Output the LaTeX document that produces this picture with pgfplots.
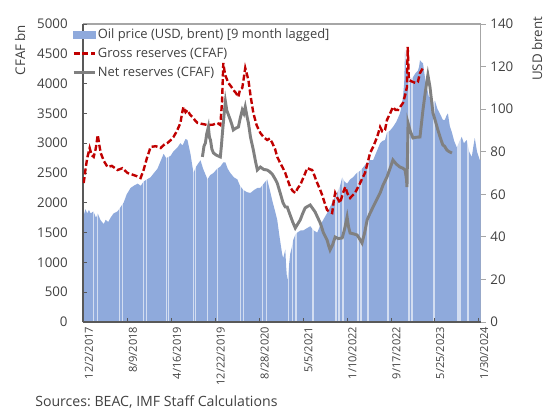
\documentclass[border=0pt]{standalone}
\usepackage{pgfplots}
\pgfplotsset{compat=1.18}
\usepackage{fontspec}
\setmainfont{Open Sans}
\frenchspacing
\definecolor{oilblue}{HTML}{8FAADC}
\definecolor{resred}{HTML}{C00000}
\definecolor{netgray}{HTML}{808080}
\definecolor{axgray}{HTML}{A6A6A6}
\definecolor{axdark}{HTML}{595959}
\definecolor{txt}{HTML}{404040}
\pgfplotsset{
  linelegend/.style={legend image code/.code={\draw[##1] (0pt,0pt) -- (16pt,0pt);}},
  patchlegend/.style={legend image code/.code={\fill[oilblue] (0pt,-2.7pt) rectangle (16pt,2.7pt);}},
}

\pgfplotstableread{
d usd
0 50
10 53
20 51
30 52.6
40 51
55 52
70 49
80 51
95 48
114 46
125 48
140 47
153 49
170 51
193 52
210 54
227 56
245 60
267 63
285 64
307 65
325 64
341 66
360 67
381 68
400 70
420 72
440 76
455 79
470 77
494 78
510 80
534 82
550 84
563 83
580 86
591 85.5
600 82
608 79
625 70
640 73
665 76
680 72
705 67
720 69
739 70
760 72
778 73
795 75
807 75
820 72
835 70
855 68
875 67
890 64
909 62
930 61
949 60.6
970 62
990 63
1006 63
1025 65
1045 67
1060 62
1074 57
1090 52
1102 48
1112 42
1119 38
1130 32
1136 30
1148 34
1153 26
1159 19
1166 24
1176 32
1185 35
1193 38.5
1205 41
1216 42
1235 43
1250 43
1270 44
1290 45
1310 43
1330 42
1345 45
1364 48
1385 51
1403 54
1420 57
1443 60.6
1460 64
1472 68
1485 66
1500 65
1517 67
1534 68
1555 70
1574 71
1595 73
1614 75
1630 76
1648 76
1668 80
1688 84
1700 85
1716 85.5
1727 89
1745 90
1761 91.6
1780 94
1801 98
1810 101
1818 105.7
1825 112
1830 127.8
1836 118
1847 117
1860 114
1875 115
1890 117
1903 118
1910 120
1915 123
1925 122
1932 121.6
1945 114
1955 110
1965 106
1972 105.7
1985 103
2000 104
2015 100
2028 98
2045 95
2057 95
2066 97
2074 98
2085 92
2097 89
2110 85
2125 82
2140 85
2153 87
2165 84
2182 85.5
2195 80
2210 77.5
2220 83
2227 86.4
2240 80
2256 76
2261 76
}\oildata

\pgfplotstableread{
d gap
57 138
80 138
205 138
222 138
341 138
358 138
472 138
483 138
625 138
636 138
705 138
761 138
892 138
909 138
1017 138
1040 138
1165 138
1188 138
1210 138
1307 138
1438 138
1455 138
1477 138
1563 138
1580 138
1619 138
1733 138
1852 138
1869 138
1994 138
2131 138
2142 138
2188 138
}\gapdata

\pgfplotstableread{
d cfaf
0 2332
12 2600
20 2750
34 2920
45 2800
57 2770
68 2900
80 3138
90 2950
97 2836
115 2700
136 2600
160 2620
193 2550
220 2580
250 2500
280 2470
300 2450
324 2416
341 2550
360 2750
381 2937
410 2950
438 2920
460 2980
477 3004
495 3050
511 3104
530 3200
551 3340
560 3500
568 3608
580 3520
591 3557
605 3480
619 3440
635 3380
648 3340
680 3320
705 3306
735 3310
761 3340
778 3306
788 3700
795 4346
805 4150
824 4010
840 3950
852 3893
865 3850
881 3776
890 3900
903 3927
912 4100
920 4262
930 4150
938 4060
950 3800
966 3507
985 3300
1006 3171
1025 3100
1045 3054
1060 3080
1074 3004
1090 2900
1102 2770
1119 2668
1135 2580
1148 2500
1162 2380
1176 2265
1190 2200
1205 2165
1220 2250
1233 2299
1255 2450
1273 2584
1290 2560
1301 2550
1315 2450
1330 2332
1345 2230
1358 2131
1372 2000
1386 1879
1400 1850
1415 1829
1425 2050
1432 2165
1445 2080
1460 1997
1475 2150
1489 2265
1503 2150
1517 2081
1530 2120
1545 2165
1560 2250
1574 2332
1588 2420
1602 2500
1615 2650
1631 2836
1650 2950
1671 3104
1688 3272
1700 3200
1716 3222
1727 3390
1745 3500
1761 3608
1775 3560
1790 3557
1805 3620
1818 3675
1830 3800
1841 3943
1845 4615
1852 4060
1875 4027
1890 4010
1903 4027
1915 4178
1932 4262
}\grossdata

\pgfplotstableread{
d cfaf
676 2770
685 2950
693 3004
700 3150
710 3272
716 3100
722 3054
730 2900
739 2836
755 2800
778 2770
784 2950
790 3171
800 3500
807 3700
815 3550
835 3390
845 3300
852 3222
865 3250
881 3272
890 3400
903 3557
912 3500
920 3608
930 3450
938 3340
950 3100
966 2886
978 2700
989 2550
1006 2600
1025 2560
1045 2550
1060 2520
1074 2480
1090 2400
1102 2332
1119 2165
1135 2000
1148 1930
1159 1930
1175 1800
1190 1680
1205 1577
1220 1650
1233 1712
1247 1820
1261 1913
1275 1940
1290 1963
1305 1900
1318 1846
1333 1750
1347 1661
1365 1500
1386 1376
1395 1280
1403 1208
1418 1300
1432 1426
1450 1400
1472 1410
1485 1550
1500 1762
1508 1600
1517 1493
1535 1480
1557 1460
1570 1400
1585 1326
1600 1500
1614 1712
1630 1820
1648 1930
1668 2050
1688 2165
1705 2300
1727 2433
1745 2580
1761 2718
1780 2650
1801 2600
1818 2580
1830 2550
1838 2400
1841 2265
1847 3340
1860 3200
1875 3088
1895 3100
1915 3104
1932 3557
1945 3850
1960 4145
1972 3943
1989 3507
2000 3400
2017 3222
2030 3100
2045 2970
2055 2950
2068 2886
2080 2860
2097 2836
}\netdata

\begin{document}
\begin{tikzpicture}
\useasboundingbox (0,0) rectangle (408pt,306pt);
\pgfplotsset{
  base/.style={
    width=298.3pt, height=223.5pt, scale only axis,
    at={(62.25pt,64.5pt)}, anchor=south west,
    xmin=-4, xmax=2261,
    /pgf/number format/assume math mode=true,
    tick label style={font=\fontsize{10}{12}\selectfont, text=txt},
    label style={font=\fontsize{10}{12}\selectfont, text=txt},
  }
}
% right axis: oil price
\begin{axis}[base,
  axis y line*=right, axis x line*=top,
  xtick=\empty,
  ymin=0, ymax=140, ytick={0,20,...,140},
  tick align=outside, major tick length=3.75pt,
  axis line style={axgray, line width=0.9pt},
  every tick/.style={axgray, line width=0.7pt},
  ylabel={USD brent},
  ylabel style={at={(axis description cs:1.1416,1.040)}, anchor=east},
]
\addplot[fill=oilblue, draw=none] table[x=d, y=usd] {\oildata} \closedcycle;
\addplot[ycomb, white, opacity=0.6, line width=1.1pt, mark=none] table[x=d, y=gap] {\gapdata};
\end{axis}
% left axis: reserves
\begin{axis}[base,
  axis y line*=left, axis x line*=bottom,
  ymin=0, ymax=5000, ytick={0,500,...,5000},
  xtick={0,250,...,2250},
  xticklabels={12/2/2017,8/9/2018,4/16/2019,12/22/2019,8/28/2020,5/5/2021,1/10/2022,9/17/2022,5/25/2023,1/30/2024},
  xticklabel style={rotate=90, anchor=east, font=\fontsize{8.3}{10}\selectfont, yshift=-4pt},
  yticklabel style={xshift=-8pt},
  scaled y ticks=false,
  /pgf/number format/set thousands separator={},
  tick align=inside, major tick length=3pt,
  axis line style={axdark, line width=0.9pt},
  every tick/.style={axdark, line width=0.7pt},
  ylabel={CFAF bn},
  ylabel style={at={(axis description cs:-0.158,1.013)}, anchor=east},
  legend style={at={(axis description cs:-0.0277,0.99)}, anchor=north west,
    draw=none, fill=none, font=\fontsize{9.7}{11.5}\selectfont, text=txt,
    row sep=3.6pt, inner sep=0pt, nodes={inner sep=1pt}},
  legend cell align=left,
]
\addlegendimage{patchlegend}
\addlegendentry{Oil price (USD, brent) [9 month lagged]}
\addplot[resred, line width=1.8pt, dash pattern=on 4.5pt off 2pt, mark=none, linelegend] table[x=d, y=cfaf] {\grossdata};
\addlegendentry{Gross reserves (CFAF)}
\addplot[netgray, line width=2.2pt, mark=none, linelegend] table[x=d, y=cfaf] {\netdata};
\addlegendentry{Net reserves (CFAF)}
\end{axis}
\node[anchor=west, font=\fontsize{10.6}{12}\selectfont, text=txt, inner sep=0pt] at (26.25pt,4.5pt) {Sources: BEAC, IMF Staff Calculations};
\end{tikzpicture}
\end{document}
